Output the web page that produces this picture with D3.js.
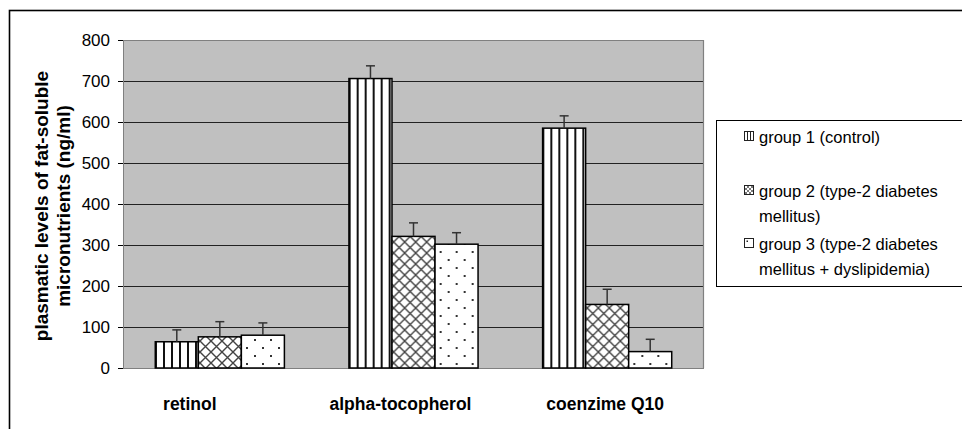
<!DOCTYPE html>
<html><head><meta charset="utf-8">
<script src="https://cdn.jsdelivr.net/npm/d3@7"></script>
<style>
html,body{margin:0;padding:0;background:#fff;}
svg{display:block;font-family:"Liberation Sans",Arial,sans-serif;}
</style></head>
<body>
<svg id="chart" width="962" height="429"></svg>
<script>
// ---- data ----
const categories = ["retinol", "alpha-tocopherol", "coenzime Q10"];
const groups = ["group 1 (control)", "group 2 (type-2 diabetes mellitus)", "group 3 (type-2 diabetes mellitus + dyslipidemia)"];
const legendLines = [["group 1 (control)"], ["group 2 (type-2 diabetes", "mellitus)"], ["group 3 (type-2 diabetes", "mellitus + dyslipidemia)"]];
const group1Values = [64, 706, 585];
const group2Values = [76, 321, 155];
const group3Values = [80, 302, 40];
const group1Errors = [29, 31, 30];
const group2Errors = [37, 33, 37];
const group3Errors = [30, 28, 30];
const yTicks = [0, 100, 200, 300, 400, 500, 600, 700, 800];
const yTitleLines = ["plasmatic levels of fat-soluble", "micronutrients (ng/ml)"];

const values = [group1Values, group2Values, group3Values];
const errors = [group1Errors, group2Errors, group3Errors];

const svg = d3.select("#chart");
const L = 123, R = 704, T = 40, B = 368;

// patterns
const defs = svg.append("defs");
const p1 = defs.append("pattern").attr("id","pv").attr("patternUnits","userSpaceOnUse")
  .attr("width",8).attr("height",8).attr("x",0);
p1.append("rect").attr("width",8).attr("height",8).attr("fill","#fff");
p1.append("rect").attr("x",0).attr("width",2).attr("height",8).attr("fill","#111");
const p2 = defs.append("pattern").attr("id","px").attr("patternUnits","userSpaceOnUse")
  .attr("width",11).attr("height",11);
p2.append("rect").attr("width",11).attr("height",11).attr("fill","#fff");
p2.append("path").attr("d","M0,0L11,11M11,0L0,11M-1,10L1,12M10,-1L12,1").attr("stroke","#444").attr("stroke-width",1.4);
const p3 = defs.append("pattern").attr("id","pd").attr("patternUnits","userSpaceOnUse")
  .attr("width",16).attr("height",16);
p3.append("rect").attr("width",16).attr("height",16).attr("fill","#fff");
p3.append("rect").attr("x",3).attr("y",3).attr("width",2).attr("height",2).attr("fill","#333");
p3.append("rect").attr("x",11).attr("y",11).attr("width",2).attr("height",2).attr("fill","#333");
const fills = ["url(#pv)","url(#px)","url(#pd)"];

// legend mini patterns
const lp1 = defs.append("pattern").attr("id","lpv").attr("patternUnits","userSpaceOnUse").attr("width",3).attr("height",3);
lp1.append("rect").attr("width",3).attr("height",3).attr("fill","#fff");
lp1.append("rect").attr("width",1).attr("height",3).attr("fill","#222");
const lp2 = defs.append("pattern").attr("id","lpx").attr("patternUnits","userSpaceOnUse").attr("width",4).attr("height",4);
lp2.append("rect").attr("width",4).attr("height",4).attr("fill","#fff");
lp2.append("path").attr("d","M0,0L4,4M4,0L0,4").attr("stroke","#555").attr("stroke-width",0.8);
const legendFills = ["url(#lpv)","url(#lpx)","#fff"];

// outer border
svg.append("rect").attr("x",9.5).attr("y",10.5).attr("width",960).attr("height",440)
  .attr("fill","none").attr("stroke","#000").attr("stroke-width",1.6);

// scales
const x0 = d3.scaleBand().domain(categories).range([L, R]).padding(0);
const x1 = d3.scaleBand().domain(d3.range(groups.length)).range([0, x0.bandwidth()]).paddingInner(0).paddingOuter(0.75);
const y = d3.scaleLinear().domain([0, 800]).range([B, T]);

// plot bg
svg.append("rect").attr("x",L).attr("y",T).attr("width",R-L).attr("height",B-T).attr("fill","#c0c0c0");
// gridlines
svg.append("g").selectAll("line").data(yTicks.filter(d=>d>0 && d<800)).join("line")
  .attr("x1",L).attr("x2",R).attr("y1",d=>Math.round(y(d))+0.5).attr("y2",d=>Math.round(y(d))+0.5)
  .attr("stroke","#222").attr("stroke-width",1);
// plot frame
svg.append("path").attr("d",`M${L},${T+0.5}H${R-0.5}V${B}`).attr("fill","none").attr("stroke","#808080").attr("stroke-width",1.2);
svg.append("line").attr("x1",L).attr("x2",R).attr("y1",B+0.5).attr("y2",B+0.5).attr("stroke","#808080");

// y axis
const yAxis = d3.axisLeft(y).tickValues(yTicks).tickSize(5).tickPadding(8).tickSizeOuter(0);
const ga = svg.append("g").attr("transform",`translate(${L},0)`).call(yAxis);
ga.select(".domain").attr("stroke","#808080");
ga.selectAll(".tick line").attr("stroke","#000");
ga.selectAll("text").attr("font-size",17).attr("fill","#000").attr("font-family","Liberation Sans, Arial, sans-serif");

// bars
const gCat = svg.append("g").selectAll("g").data(categories).join("g")
  .attr("transform",d=>`translate(${x0(d)},0)`);
gCat.selectAll("rect").data((d,i)=>groups.map((g,j)=>({j, v: values[j][i]}))).join("rect")
  .attr("x",d=>x1(d.j)).attr("width",x1.bandwidth())
  .attr("y",d=>y(d.v)).attr("height",d=>y(0)-y(d.v))
  .attr("fill",d=>fills[d.j]).attr("stroke","#000").attr("stroke-width",1.5);
// error bars
const eb = gCat.selectAll("g.eb").data((d,i)=>groups.map((g,j)=>({j, v: values[j][i], e: errors[j][i]}))).join("g").attr("class","eb");
eb.append("line").attr("x1",d=>x1(d.j)+x1.bandwidth()/2).attr("x2",d=>x1(d.j)+x1.bandwidth()/2)
  .attr("y1",d=>y(d.v)).attr("y2",d=>y(d.v+d.e)).attr("stroke","#333").attr("stroke-width",1.5);
eb.append("line").attr("x1",d=>x1(d.j)+x1.bandwidth()/2-4.5).attr("x2",d=>x1(d.j)+x1.bandwidth()/2+4.5)
  .attr("y1",d=>y(d.v+d.e)).attr("y2",d=>y(d.v+d.e)).attr("stroke","#333").attr("stroke-width",1.5);

// category labels
const labelShift = [-30, -13, -2];
svg.append("g").selectAll("text").data(categories).join("text")
  .attr("x",(d,i)=>x0(d)+x0.bandwidth()/2+labelShift[i]).attr("y",410)
  .attr("text-anchor","middle").attr("font-weight","bold").attr("font-size",17.5).text(d=>d);

// y title
const yt = svg.append("text").attr("transform","translate(48,206) rotate(-90)")
  .attr("text-anchor","middle").attr("font-weight","bold").attr("font-size",19);
yt.selectAll("tspan").data(yTitleLines).join("tspan").attr("x",0).attr("dy",(d,i)=>i?22:0).text(d=>d);

// legend
svg.append("rect").attr("x",716.5).attr("y",120.5).attr("width",260).attr("height",166)
  .attr("fill","#fff").attr("stroke","#000").attr("stroke-width",1);
const legY = [137, 191, 244];
const lg = svg.append("g").selectAll("g").data(legendLines).join("g")
  .attr("transform",(d,i)=>`translate(0,${legY[i]})`);
lg.append("rect").attr("x",744.5).attr("y",-5.5).attr("width",9).attr("height",9)
  .attr("fill",(d,i)=>legendFills[i]).attr("stroke","#222").attr("stroke-width",1);
lg.filter((d,i)=>i===2).append("rect").attr("x",746.5).attr("y",-3.5).attr("width",1.5).attr("height",1.5).attr("fill","#222");
lg.append("text").attr("font-size",16.5).attr("fill","#000")
  .selectAll("tspan").data(d=>d).join("tspan").attr("x",759).attr("y",(d,i)=>6+i*25).text(d=>d);
</script>
</body></html>
